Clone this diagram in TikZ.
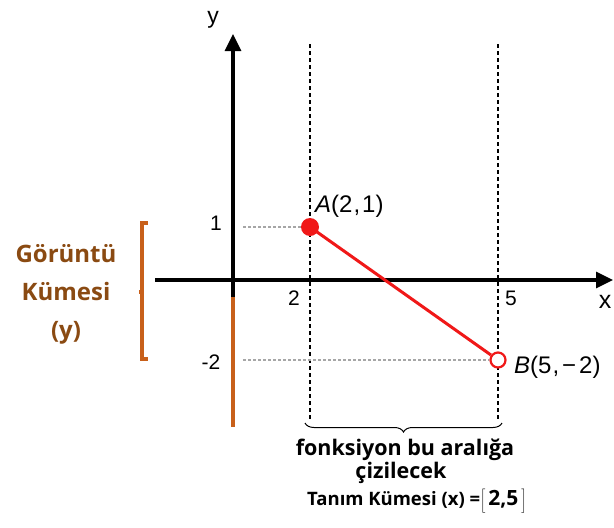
\documentclass[tikz,border=0pt]{standalone}
\usepackage{fontspec}
\setmainfont{Liberation Sans}
\newfontfamily\osans{Open Sans}
\usetikzlibrary{arrows.meta,decorations.pathreplacing}
\definecolor{orng}{HTML}{C8601A}
\definecolor{brwn}{HTML}{8A4A12}
\definecolor{ptred}{HTML}{F01818}
\tikzset{
  axisline/.style={line width=3.3pt,-{Triangle[length=17pt,width=16pt]}},
  vdash/.style={line width=2.4pt,dash pattern=on 4pt off 3pt},
  gdash/.style={line width=1.1pt,gray!70,dash pattern=on 3pt off 2pt},
  lbl/.style={font=\fontsize{21}{23}\selectfont,inner sep=0pt},
  brtext/.style={font=\osans\bfseries\fontsize{24}{38}\selectfont,text=brwn,align=center,inner sep=0pt},
  btext/.style={font=\osans\bfseries\fontsize{21.5}{23}\selectfont,align=center,inner sep=0pt},
}
\begin{document}
\begin{tikzpicture}[x=1pt,y=-1pt]
\useasboundingbox (0,0) rectangle (614,528);
% coordinates
\coordinate (xs) at (155,280);
\coordinate (xe) at (613,280);
\coordinate (ys) at (233,297);
\coordinate (ye) at (233,34);
\coordinate (ob) at (233,427);
\coordinate (v2t) at (310,44);
\coordinate (v2b) at (310,420);
\coordinate (v5t) at (498,44);
\coordinate (v5b) at (498,420);
\coordinate (g1) at (243,227);
\coordinate (g2) at (243,360);
% dashed verticals
\draw[vdash] (v2t) -- (v2b);
\draw[vdash] (v5t) -- (v5b);
% axes
\draw[axisline] (xs) -- (xe);
\draw[axisline] (ys) -- (ye);
\draw[orng,line width=3.6pt] (ys) -- (ob);
% points
\node[circle,fill=ptred,minimum size=18pt,inner sep=0pt] (A) at (310,227) {};
\node[circle,draw=ptred,fill=white,line width=2.2pt,minimum size=15pt,inner sep=0pt] (B) at (498,360) {};
\draw[gdash] (g1) -- (A.west);
\draw[gdash] (g2) -- (B.west);
\draw[ptred,line width=3pt] (A.center) -- (B);
% labels
\node[lbl,font=\fontsize{23}{25}\selectfont] (ylab) at (213,20) {y};
\node[lbl,font=\fontsize{25}{27}\selectfont] (xlab) at (605,302) {x};
\node[lbl] (l1) at (216,223) {1};
\node[lbl] (lm2) at (211,362) {-2};
\node[lbl] (l2) at (294,298) {2};
\node[lbl] (l5) at (511,298) {5};
\node[lbl,font=\fontsize{24}{26}\selectfont,anchor=west] (Alab) at (315,206) {\textit{A}(2\kern1pt,\kern2pt1)};
\node[lbl,font=\fontsize{24}{26}\selectfont,anchor=west] (Blab) at (514,367) {\textit{B}(5\kern1pt,\kern3pt\char"2212\kern3pt2)};
% orange bracket
\coordinate (bt) at (148,223);
\coordinate (bb) at (148,359);
\coordinate (bm) at (142,292);
\draw[orng,line width=3.3pt] (bt) -- (bm|-bt) -- (bm|-bb) -- (bb);
\draw[orng,line width=3.3pt] (bm) -- ++(-3,0);
\node[brtext] (gk) at (66,294) {Görüntü\\Kümesi\\(y)};
% brace
\coordinate (brl) at (305,423);
\coordinate (brr) at (502,423);
\draw[decorate,decoration={brace,mirror,amplitude=9pt},line width=1pt] (brl) -- (brr);
\node[btext] (f1) at (405,450) {fonksiyon bu aralığa};
\node[btext] (f2) at (401,473) {çizilecek};
\node[font=\osans\fontsize{18.5}{20}\selectfont,inner sep=0pt,anchor=west] (tk) at (307,501) {\textbf{Tanım Kümesi (x) =}$\left[\,\hbox{\osans\bfseries\fontsize{21}{22}\selectfont 2,5}\,\right]$};
\end{tikzpicture}
\end{document}
